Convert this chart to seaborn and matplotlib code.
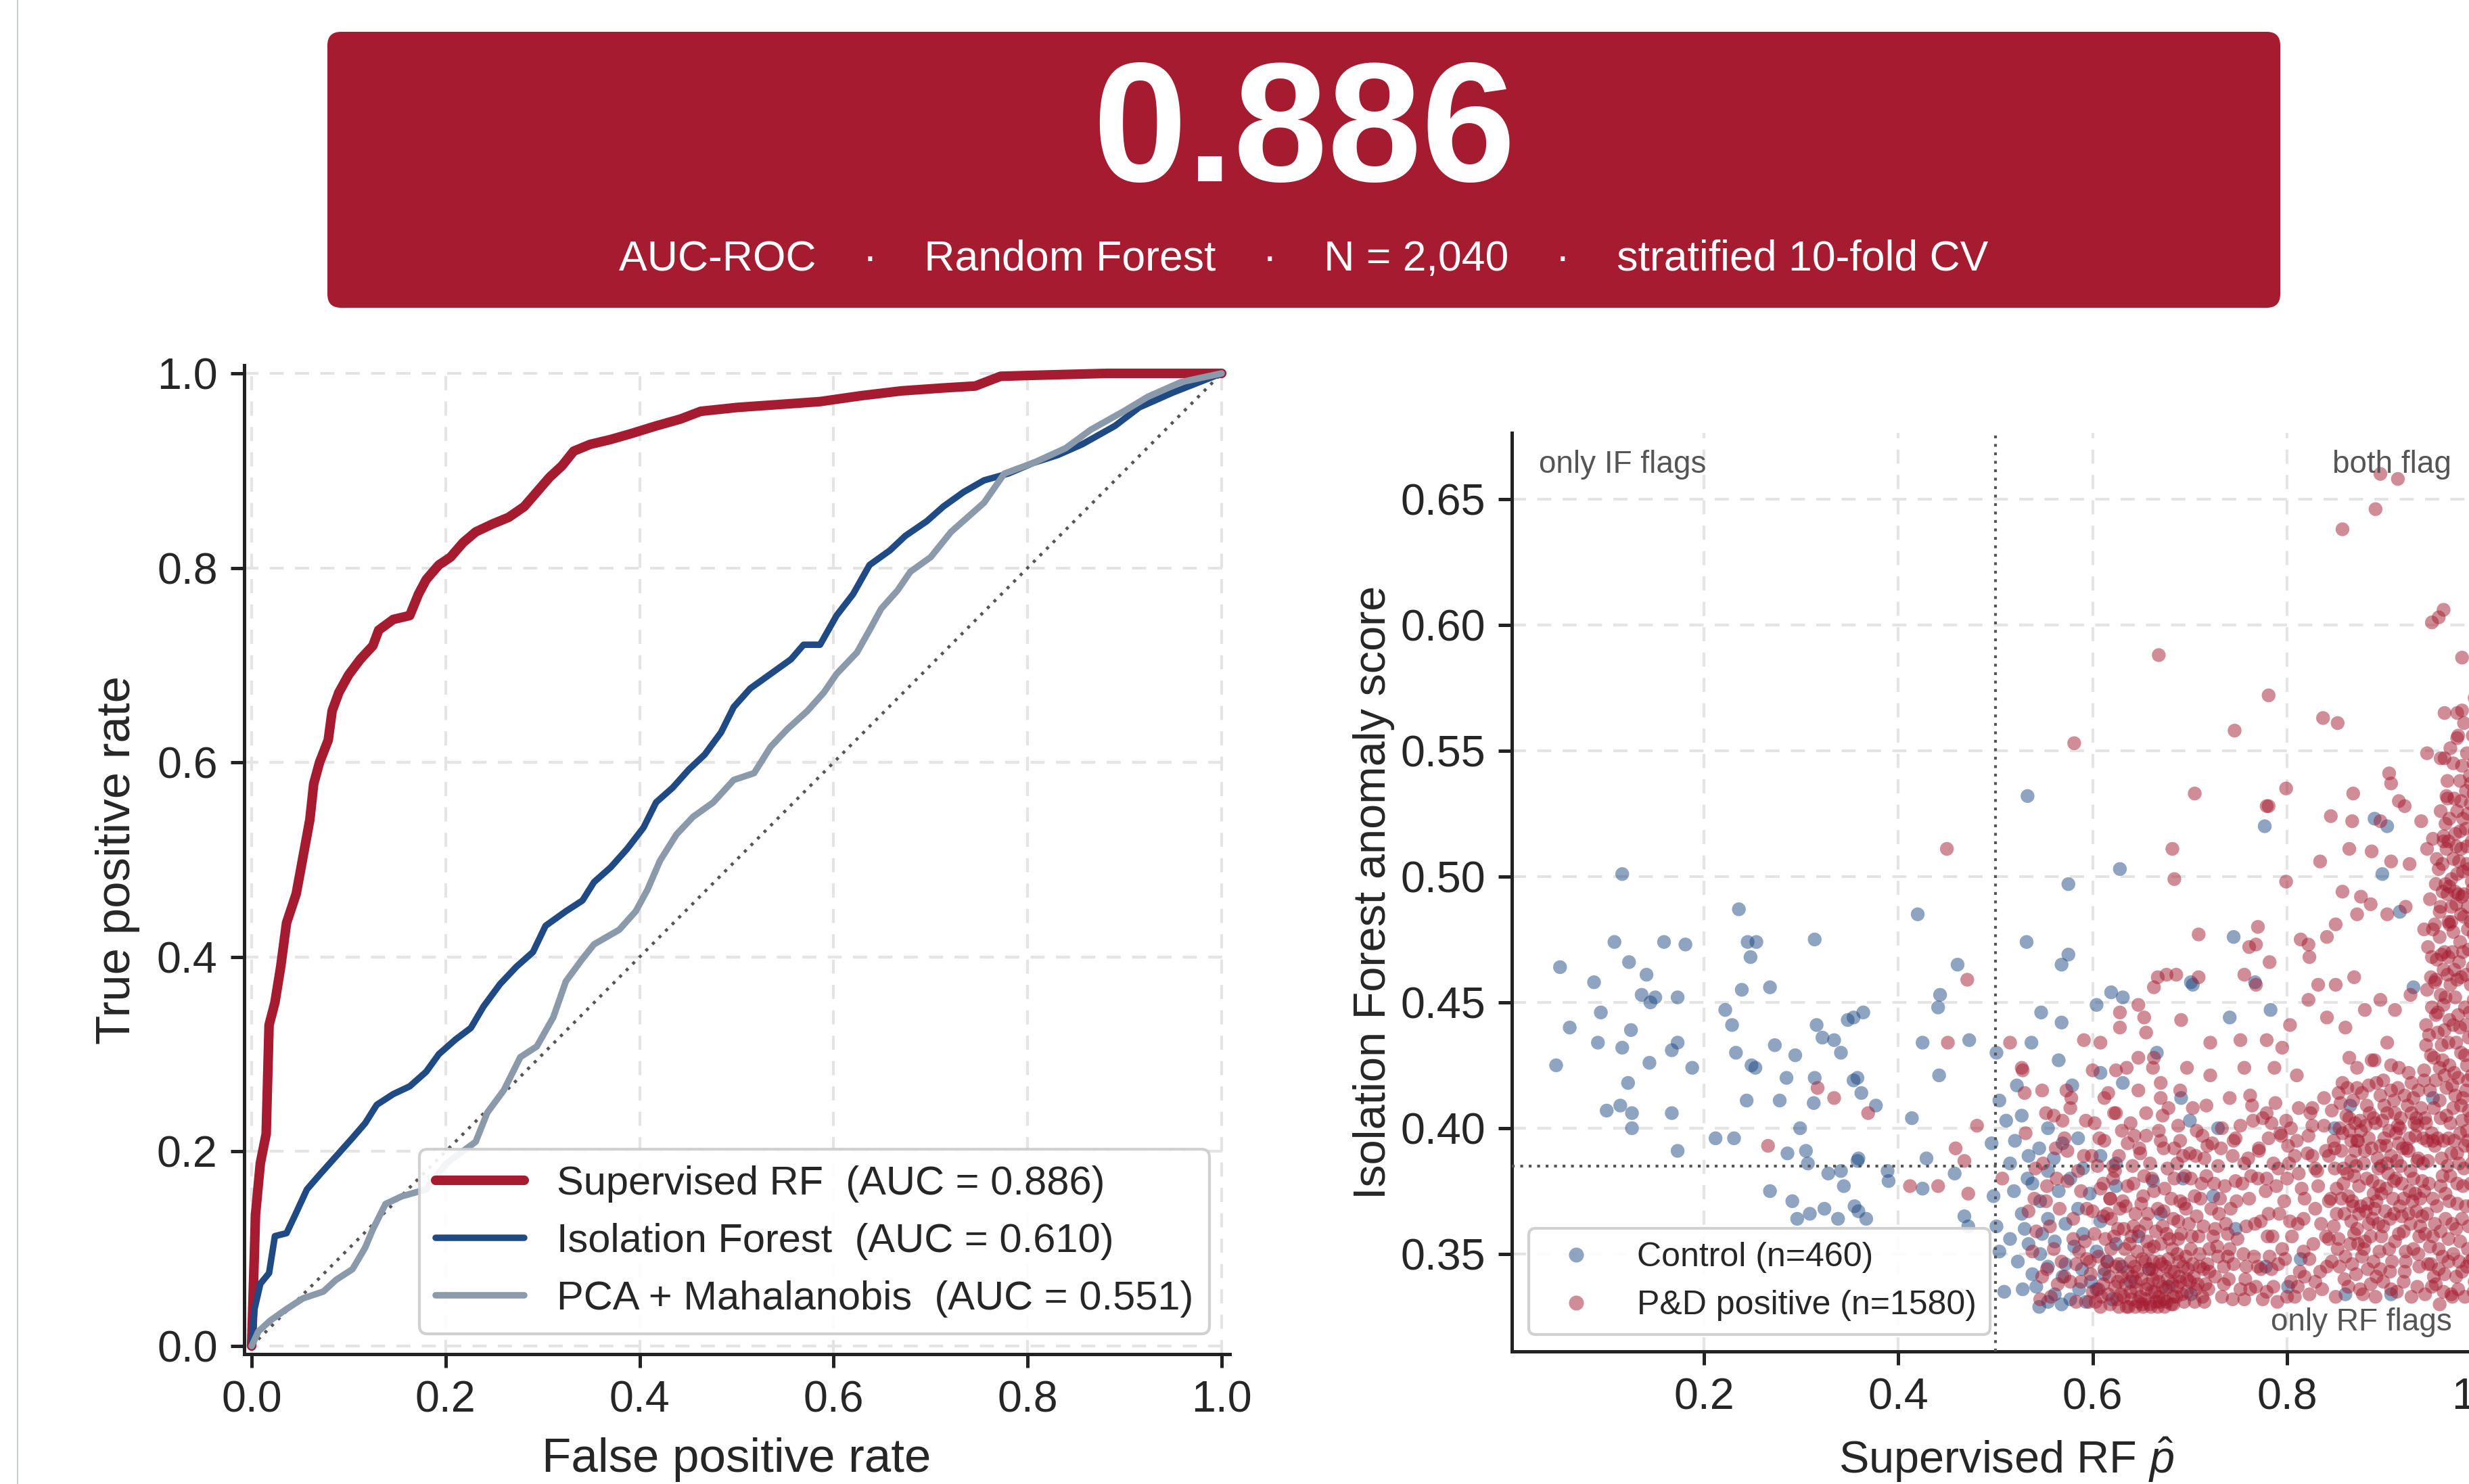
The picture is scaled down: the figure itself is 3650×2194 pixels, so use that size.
import matplotlib
matplotlib.use("Agg")
import matplotlib.pyplot as plt
import seaborn as sns
import pandas as pd
from matplotlib.patches import FancyBboxPatch
from matplotlib.lines import Line2D
from matplotlib.ticker import FormatStrFormatter

# ---------------- data ----------------
rf_fpr = [0.0, 0.003, 0.004, 0.009, 0.015, 0.018, 0.024, 0.030, 0.036, 0.046, 0.053, 0.060, 0.064, 0.070,
          0.079, 0.083, 0.090, 0.100, 0.112, 0.125, 0.131, 0.146, 0.163, 0.172, 0.180, 0.193, 0.205, 0.218,
          0.231, 0.248, 0.265, 0.281, 0.294, 0.307, 0.320, 0.332, 0.349, 0.370, 0.391, 0.417, 0.442, 0.463,
          0.501, 0.544, 0.586, 0.628, 0.670, 0.713, 0.746, 0.772, 0.806, 0.882, 1.0]
rf_tpr = [0.0, 0.100, 0.135, 0.188, 0.218, 0.330, 0.353, 0.390, 0.435, 0.465, 0.503, 0.541, 0.578, 0.600,
          0.623, 0.653, 0.672, 0.690, 0.706, 0.720, 0.736, 0.747, 0.751, 0.773, 0.788, 0.803, 0.811, 0.826,
          0.837, 0.845, 0.852, 0.863, 0.878, 0.893, 0.905, 0.920, 0.927, 0.932, 0.938, 0.946, 0.953, 0.961,
          0.965, 0.968, 0.971, 0.977, 0.982, 0.985, 0.987, 0.997, 0.998, 1.0, 1.0]

if_fpr = [0.0, 0.003, 0.009, 0.018, 0.024, 0.036, 0.045, 0.057, 0.070, 0.087, 0.104, 0.117, 0.129, 0.146,
          0.163, 0.180, 0.193, 0.210, 0.226, 0.239, 0.256, 0.273, 0.290, 0.303, 0.324, 0.341, 0.353, 0.370,
          0.387, 0.404, 0.417, 0.434, 0.451, 0.467, 0.484, 0.497, 0.514, 0.535, 0.556, 0.569, 0.586, 0.603,
          0.620, 0.637, 0.658, 0.674, 0.696, 0.713, 0.734, 0.755, 0.780, 0.806, 0.831, 0.856, 0.890, 0.915,
          0.949, 1.0]
if_tpr = [0.0, 0.038, 0.064, 0.075, 0.113, 0.116, 0.135, 0.161, 0.176, 0.195, 0.214, 0.229, 0.248, 0.259,
          0.267, 0.282, 0.300, 0.315, 0.327, 0.349, 0.372, 0.390, 0.405, 0.432, 0.447, 0.458, 0.477, 0.492,
          0.511, 0.533, 0.559, 0.574, 0.593, 0.608, 0.631, 0.657, 0.676, 0.691, 0.706, 0.721, 0.721, 0.751,
          0.773, 0.803, 0.818, 0.833, 0.848, 0.863, 0.878, 0.890, 0.897, 0.908, 0.916, 0.927, 0.946, 0.965,
          0.980, 1.0]

pca_fpr = [0.0, 0.007, 0.019, 0.036, 0.053, 0.074, 0.087, 0.104, 0.117, 0.125, 0.138, 0.155, 0.180, 0.201,
           0.231, 0.243, 0.260, 0.277, 0.294, 0.311, 0.324, 0.341, 0.353, 0.379, 0.396, 0.408, 0.421, 0.438,
           0.455, 0.476, 0.497, 0.518, 0.535, 0.552, 0.573, 0.590, 0.603, 0.624, 0.637, 0.649, 0.666, 0.679,
           0.700, 0.721, 0.738, 0.755, 0.776, 0.806, 0.839, 0.865, 0.899, 0.924, 0.958, 1.0]
pca_tpr = [0.0, 0.015, 0.026, 0.038, 0.049, 0.056, 0.068, 0.079, 0.101, 0.120, 0.146, 0.154, 0.161, 0.188,
           0.210, 0.240, 0.263, 0.297, 0.308, 0.338, 0.375, 0.398, 0.413, 0.428, 0.447, 0.469, 0.499, 0.526,
           0.544, 0.559, 0.582, 0.589, 0.616, 0.634, 0.653, 0.672, 0.691, 0.713, 0.736, 0.758, 0.777, 0.796,
           0.811, 0.837, 0.852, 0.867, 0.897, 0.908, 0.923, 0.942, 0.961, 0.976, 0.991, 1.0]

roc_labels = ["Supervised RF  (AUC = 0.886)", "Isolation Forest  (AUC = 0.610)",
              "PCA + Mahalanobis  (AUC = 0.551)"]

# scatter: (RF probability, IF anomaly score)
ctrl_pts = [
    (.052, .464), (.048, .425), (.062, .440), (.087, .458), (.094, .446), (.091, .434), (.116, .501),
    (.108, .474), (.123, .466), (.141, .461), (.136, .453), (.145, .450), (.150, .452), (.173, .452),
    (.159, .474), (.181, .473), (.125, .439), (.116, .432), (.144, .426), (.122, .418), (.114, .409),
    (.100, .407), (.126, .406), (.126, .400), (.167, .406), (.173, .391), (.173, .434), (.167, .431),
    (.188, .424), (.222, .447), (.229, .441), (.236, .487), (.239, .455), (.245, .474), (.254, .474),
    (.248, .468), (.268, .456), (.233, .430), (.249, .425), (.253, .424), (.273, .433), (.294, .429),
    (.285, .420), (.244, .411), (.278, .411), (.212, .396), (.231, .396), (.299, .400), (.314, .475),
    (.316, .441), (.322, .436), (.334, .435), (.341, .430), (.348, .443), (.354, .444), (.364, .446),
    (.314, .420), (.313, .410), (.354, .419), (.358, .420), (.362, .414), (.377, .409), (.286, .390),
    (.305, .391), (.307, .386), (.328, .382), (.341, .383), (.344, .377), (.358, .387), (.359, .388),
    (.268, .375), (.291, .371), (.296, .364), (.324, .368), (.355, .369), (.359, .367), (.367, .364),
    (.338, .364), (.309, .366), (.389, .383), (.390, .379), (.414, .404), (.420, .485), (.429, .388),
    (.425, .434), (.425, .376), (.442, .421), (.441, .448), (.443, .453), (.461, .465), (.473, .435),
    (.458, .382), (.472, .361), (.468, .365), (.501, .430), (.504, .411), (.496, .394), (.498, .373),
    (.501, .361), (.504, .351), (.509, .335),
    (.533, .532), (.575, .497), (.628, .503), (.532, .474), (.575, .469), (.568, .465), (.547, .446),
    (.568, .442), (.604, .449), (.619, .454), (.631, .452), (.537, .434), (.522, .417), (.565, .427),
    (.579, .417), (.608, .422), (.631, .418), (.666, .430), (.691, .412), (.700, .403), (.729, .400),
    (.741, .444), (.745, .476), (.767, .458), (.777, .520), (.783, .447), (.890, .523), (.903, .520),
    (.898, .501), (.916, .486), (.930, .456), (.701, .458), (.703, .457),
    (.511, .403), (.527, .405), (.554, .400), (.569, .394), (.585, .396), (.608, .389), (.624, .386),
    (.515, .386), (.534, .389), (.554, .383), (.577, .380), (.597, .374), (.624, .377), (.519, .375),
    (.538, .378), (.546, .371), (.565, .375), (.527, .366), (.554, .364), (.585, .368), (.608, .363),
    (.515, .356), (.534, .354), (.546, .350), (.561, .355), (.581, .353), (.604, .351), (.624, .354),
    (.523, .347), (.538, .342), (.554, .345), (.569, .341), (.589, .344), (.612, .342), (.542, .337),
    (.561, .334), (.577, .332), (.593, .331), (.554, .331), (.604, .336), (.639, .339), (.658, .344),
    (.678, .337), (.701, .334), (.647, .357), (.670, .366), (.662, .379), (.693, .380), (.724, .373),
    (.747, .360), (.778, .345), (.801, .337), (.860, .334), (.907, .334), (.849, .400), (.865, .409),
    (.950, .412), (.814, .348), (.530, .360), (.548, .358), (.572, .362), (.590, .358), (.520, .395),
    (.545, .392), (.560, .388), (.590, .384), (.533, .380), (.572, .346), (.598, .339), (.528, .336),
    (.615, .347), (.630, .345), (.545, .329), (.568, .330), (.586, .336), (.620, .332),
]

pos_sparse = [
    (.317, .416), (.334, .412), (.369, .406), (.266, .393), (.450, .511), (.471, .459), (.451, .434),
    (.481, .401), (.459, .392), (.468, .387), (.412, .377), (.441, .377), (.472, .374), (.507, .380),
    (.515, .434), (.527, .424),
    (.896, .660), (.914, .658), (.891, .646), (.857, .638), (.949, .601), (.956, .603), (.961, .606),
    (.980, .587), (.668, .588), (.781, .572), (.581, .553), (.746, .558), (.837, .563), (.852, .561),
    (.962, .565), (.980, .566), (.944, .549), (.958, .547), (.975, .555), (.705, .533), (.799, .535),
    (.779, .528), (.781, .528), (.868, .533), (.907, .537), (.905, .541), (.845, .524), (.867, .522),
    (.896, .522), (.938, .522), (.915, .530), (.921, .528), (.965, .531), (.682, .511), (.684, .499),
    (.799, .498), (.834, .506), (.857, .494), (.864, .511), (.887, .510), (.907, .506), (.926, .505),
    (.944, .511), (.961, .514), (.876, .492), (.872, .485), (.886, .489), (.903, .485), (.922, .488),
    (.941, .479), (.965, .493), (.969, .482), (.850, .481), (.841, .476), (.822, .473), (.814, .475),
    (.823, .468), (.709, .477), (.770, .480), (.768, .473), (.761, .472), (.782, .466), (.756, .461),
    (.768, .457), (.686, .461), (.676, .461), (.667, .460), (.663, .456), (.647, .449), (.653, .444),
    (.655, .438), (.628, .446), (.691, .443), (.709, .460), (.628, .440), (.608, .434), (.591, .435),
    (.600, .423), (.624, .423), (.616, .414), (.647, .415), (.655, .406), (.670, .412), (.690, .415),
    (.697, .424), (.721, .421), (.717, .409), (.741, .412), (.756, .424), (.752, .435), (.721, .434),
    (.779, .435), (.795, .432), (.787, .424), (.810, .421), (.803, .441), (.822, .451), (.832, .457),
    (.850, .457), (.869, .460), (.841, .444), (.860, .440), (.880, .447), (.896, .451), (.911, .447),
    (.927, .453), (.864, .428), (.887, .427), (.903, .434), (.915, .424), (.930, .412), (.857, .418),
    (.872, .416), (.826, .408), (.838, .401), (.864, .404), (.891, .402), (.911, .406), (.934, .401),
    (.528, .423), (.530, .414), (.548, .415), (.552, .406), (.569, .403), (.573, .415), (.577, .408),
    (.612, .412), (.624, .406), (.643, .397), (.635, .424), (.647, .428), (.663, .428), (.662, .424),
    (.670, .418), (.678, .408), (.670, .395), (.690, .395), (.693, .389), (.713, .397), (.732, .392),
    (.747, .396), (.771, .392), (.794, .397), (.810, .395), (.779, .406), (.764, .409), (.756, .386),
    (.779, .380), (.802, .386), (.826, .389), (.849, .392), (.872, .395), (.896, .393), (.919, .392),
    (.934, .387), (.950, .395),
]

# dense low-score cluster of positives around p 0.6-0.72
pos_cluster_a = [
    (.603, .331), (.611, .338), (.618, .330), (.624, .345), (.629, .334), (.633, .352), (.637, .329),
    (.641, .341), (.645, .336), (.648, .359), (.651, .330), (.654, .347), (.657, .338), (.660, .329),
    (.663, .353), (.666, .342), (.669, .331), (.672, .361), (.675, .336), (.678, .348), (.681, .330),
    (.684, .343), (.688, .356), (.692, .334), (.696, .349), (.700, .339), (.705, .331), (.709, .357),
    (.714, .344), (.719, .336), (.606, .349), (.613, .356), (.619, .364), (.626, .339), (.631, .371),
    (.639, .347), (.644, .366), (.650, .340), (.655, .362), (.661, .335), (.667, .368), (.671, .346),
    (.677, .340), (.683, .364), (.689, .341), (.694, .370), (.701, .352), (.707, .365), (.713, .333),
    (.720, .352), (.598, .342), (.609, .333), (.615, .347), (.622, .357), (.628, .368), (.634, .338),
    (.640, .332), (.646, .351), (.652, .373), (.658, .344), (.664, .335), (.670, .354), (.676, .331),
    (.682, .352), (.687, .337), (.693, .345), (.699, .362), (.704, .341), (.710, .350), (.716, .338),
    (.617, .341), (.625, .332), (.632, .360), (.638, .354), (.643, .345), (.649, .333), (.656, .355),
    (.662, .347), (.668, .339), (.673, .332), (.679, .356), (.686, .333), (.691, .358), (.697, .335),
    (.703, .346), (.726, .341), (.733, .333), (.739, .358), (.745, .346), (.752, .336), (.592, .355),
    (.600, .367), (.608, .376), (.621, .380), (.636, .377), (.653, .381), (.674, .376), (.690, .371),
    (.711, .372), (.730, .366), (.635, .329), (.644, .329), (.652, .329), (.659, .330), (.667, .329),
    (.674, .329), (.627, .329), (.683, .330),
    (.606, .336), (.612, .344), (.619, .352), (.623, .337), (.627, .346), (.632, .333), (.636, .343),
    (.640, .357), (.644, .339), (.647, .331), (.651, .348), (.655, .336), (.658, .352), (.662, .340),
    (.665, .331), (.669, .347), (.672, .337), (.676, .358), (.680, .343), (.683, .333), (.687, .350),
    (.690, .339), (.694, .331), (.698, .344), (.702, .357), (.706, .336), (.710, .345), (.715, .331),
    (.720, .343), (.724, .357), (.611, .365), (.618, .372), (.626, .360), (.634, .369), (.642, .361),
    (.650, .370), (.657, .366), (.665, .359), (.673, .367), (.681, .372), (.688, .363), (.696, .368),
    (.705, .373), (.714, .361), (.722, .368), (.600, .335), (.608, .329), (.616, .334), (.630, .341),
    (.639, .335), (.646, .343), (.654, .332), (.661, .344), (.668, .333), (.675, .345), (.682, .338),
    (.689, .347), (.697, .340), (.708, .338), (.718, .346), (.594, .348), (.602, .358), (.621, .385),
    (.642, .378), (.663, .375), (.684, .380), (.701, .380), (.729, .349), (.735, .338), (.741, .352),
]

# medium-density band of positives, p 0.53-0.85
pos_band = [
    (.531, .398), (.540, .372), (.549, .386), (.556, .361), (.562, .392), (.568, .347), (.574, .379),
    (.580, .364), (.586, .351), (.591, .389), (.548, .341), (.557, .333), (.566, .368), (.577, .339),
    (.588, .375), (.596, .331), (.605, .385), (.612, .395), (.618, .372), (.627, .389), (.542, .359),
    (.553, .377), (.571, .396), (.583, .346), (.594, .368), (.602, .402), (.615, .366), (.630, .399),
    (.641, .385), (.648, .392), (.659, .386), (.668, .399), (.677, .384), (.684, .392), (.695, .381),
    (.706, .389), (.717, .381), (.723, .394), (.736, .377), (.744, .389), (.728, .353), (.735, .345),
    (.742, .368), (.749, .356), (.757, .340), (.761, .372), (.766, .349), (.773, .363), (.779, .335),
    (.785, .357), (.791, .346), (.797, .371), (.804, .339), (.811, .362), (.817, .351), (.823, .334),
    (.829, .368), (.834, .343), (.840, .357), (.756, .332), (.763, .381), (.771, .391), (.778, .375),
    (.786, .386), (.793, .398), (.800, .380), (.808, .389), (.815, .376), (.822, .397), (.831, .383),
    (.752, .401), (.762, .413), (.775, .404), (.788, .410), (.799, .403), (.812, .408), (.826, .401),
    (.838, .412), (.770, .345), (.782, .349), (.715, .388), (.725, .378), (.733, .400), (.747, .379),
    (.758, .361), (.768, .337), (.781, .366), (.795, .352), (.803, .363), (.818, .341), (.827, .354),
    (.836, .336), (.808, .333), (.790, .331), (.744, .332), (.818, .372), (.846, .347), (.843, .371),
    (.789, .377), (.737, .362), (.560, .405), (.578, .412), (.593, .403), (.607, .396), (.622, .406),
    (.639, .402), (.655, .397), (.672, .405), (.688, .401), (.703, .408),
    (.740, .340), (.748, .371), (.755, .350), (.762, .336), (.767, .362), (.773, .344), (.780, .357),
    (.786, .337), (.792, .366), (.798, .348), (.805, .357), (.811, .337), (.817, .364), (.823, .348),
    (.829, .339), (.835, .362), (.841, .345), (.760, .388), (.770, .380), (.781, .396), (.791, .384),
    (.801, .393), (.812, .382), (.821, .390), (.832, .377), (.840, .391), (.765, .403), (.784, .402),
    (.804, .400), (.824, .406), (.745, .395), (.729, .385), (.712, .378), (.700, .390), (.687, .386),
    (.673, .392), (.661, .380), (.649, .390), (.636, .394), (.623, .383), (.611, .378), (.599, .389),
    (.585, .383), (.574, .391), (.563, .380), (.552, .371), (.541, .384), (.580, .356), (.571, .341),
    (.560, .352), (.588, .339), (.553, .344), (.538, .351), (.534, .367), (.546, .332), (.564, .338),
    (.583, .331), (.597, .347), (.829, .384), (.813, .343), (.800, .333), (.784, .344), (.775, .332),
    (.754, .378), (.731, .372), (.718, .393), (.707, .399), (.739, .349), (.726, .360), (.758, .345),
]

# dense cluster of positives around p 0.84-0.94
pos_cluster_b = [
    (.843, .389), (.848, .361), (.851, .376), (.854, .345), (.857, .398), (.859, .366), (.862, .382),
    (.865, .354), (.867, .371), (.870, .391), (.872, .360), (.874, .377), (.877, .349), (.879, .386),
    (.881, .367), (.884, .396), (.886, .357), (.888, .379), (.890, .368), (.893, .388), (.895, .351),
    (.897, .374), (.899, .361), (.902, .393), (.904, .382), (.906, .364), (.909, .372), (.911, .355),
    (.913, .387), (.916, .369), (.918, .378), (.920, .359), (.923, .392), (.925, .366), (.927, .383),
    (.930, .352), (.932, .374), (.935, .388), (.937, .361), (.939, .379), (.846, .407), (.853, .414),
    (.861, .405), (.868, .411), (.875, .403), (.882, .409), (.889, .404), (.896, .413), (.903, .406),
    (.910, .411), (.917, .404), (.924, .409), (.931, .402), (.938, .408), (.884, .417), (.899, .419),
    (.914, .416), (.928, .418), (.871, .342), (.886, .338), (.850, .333), (.863, .337), (.878, .334),
    (.892, .341), (.907, .336), (.921, .343), (.934, .337), (.858, .384), (.873, .395), (.889, .374),
    (.901, .367), (.915, .394), (.929, .371), (.940, .396), (.866, .363), (.880, .355), (.894, .362),
    (.908, .347), (.922, .351), (.936, .357), (.856, .372), (.869, .381), (.883, .370), (.897, .385),
    (.912, .380), (.926, .375), (.939, .365), (.852, .352), (.876, .369), (.905, .399),
    (.845, .372), (.849, .384), (.853, .356), (.856, .391), (.860, .349), (.863, .373), (.866, .395),
    (.869, .358), (.871, .385), (.874, .366), (.876, .399), (.879, .352), (.882, .380), (.884, .362),
    (.887, .392), (.889, .347), (.892, .371), (.894, .384), (.897, .357), (.900, .396), (.902, .376),
    (.905, .352), (.907, .389), (.910, .366), (.912, .398), (.915, .358), (.917, .385), (.920, .372),
    (.922, .347), (.925, .391), (.927, .362), (.930, .380), (.932, .397), (.935, .350), (.937, .372),
    (.940, .386), (.942, .358), (.944, .395), (.855, .410), (.862, .416), (.870, .402), (.877, .414),
    (.885, .406), (.892, .418), (.900, .409), (.907, .415), (.914, .401), (.921, .413), (.928, .406),
    (.935, .415), (.942, .404), (.859, .340), (.867, .346), (.875, .336), (.883, .344), (.891, .333),
    (.899, .339), (.906, .343), (.913, .335), (.920, .339), (.928, .333), (.936, .345), (.843, .356),
    (.851, .366), (.858, .378), (.866, .387), (.873, .354), (.880, .391), (.888, .364), (.895, .377),
    (.903, .386), (.910, .379), (.918, .365), (.926, .396), (.933, .367), (.941, .375), (.848, .395),
    (.864, .399), (.881, .401), (.898, .403), (.916, .400), (.933, .404), (.872, .424), (.890, .427),
    (.907, .425), (.925, .422), (.941, .419), (.854, .400), (.868, .369), (.896, .344),
]

# very dense column of positives with RF probability close to 1
pos_column = [
    (.942, .334), (.948, .346), (.953, .338), (.958, .359), (.962, .342), (.967, .371), (.971, .350),
    (.976, .336), (.980, .364), (.985, .345), (.989, .378), (.994, .355), (.945, .387), (.950, .372),
    (.955, .396), (.960, .381), (.964, .405), (.969, .390), (.973, .413), (.978, .398), (.982, .384),
    (.987, .407), (.991, .392), (.996, .416), (.943, .402), (.952, .362), (.957, .411), (.966, .356),
    (.975, .378), (.984, .369), (.993, .339), (.947, .353), (.961, .395), (.970, .333), (.979, .409),
    (.988, .347), (.997, .383), (.944, .366), (.956, .344), (.965, .385), (.974, .360), (.983, .393),
    (.992, .370), (.951, .408), (.960, .349), (.968, .402), (.977, .347), (.986, .419), (.995, .398),
    (.949, .337), (.941, .423), (.946, .437), (.951, .428), (.955, .446), (.959, .433), (.963, .452),
    (.967, .425), (.971, .441), (.975, .459), (.979, .430), (.983, .448), (.987, .436), (.991, .464),
    (.995, .444), (.944, .455), (.949, .468), (.953, .459), (.957, .476), (.961, .463), (.966, .482),
    (.970, .470), (.974, .489), (.978, .474), (.982, .493), (.986, .479), (.990, .498), (.994, .486),
    (.998, .472), (.947, .491), (.952, .481), (.956, .503), (.960, .494), (.964, .511), (.969, .499),
    (.973, .517), (.977, .506), (.981, .523), (.985, .512), (.989, .529), (.993, .518), (.997, .535),
    (.950, .515), (.958, .526), (.965, .538), (.972, .531), (.980, .544), (.988, .540), (.996, .551),
    (.962, .547), (.976, .556), (.943, .441), (.948, .429), (.954, .467), (.962, .439), (.968, .457),
    (.976, .445), (.984, .461), (.992, .451), (.958, .488), (.967, .496), (.979, .485), (.987, .503),
    (.995, .492), (.963, .521), (.975, .526), (.984, .534), (.992, .545), (.945, .472), (.953, .497),
    (.971, .507), (.981, .470), (.989, .482), (.999, .509), (.966, .468), (.985, .425), (.957, .424),
    (.974, .434), (.993, .430), (.949, .448), (.978, .518),
    (.951, .341), (.956, .352), (.961, .335), (.966, .347), (.970, .362), (.974, .341), (.978, .355),
    (.983, .333), (.987, .361), (.991, .348), (.995, .366), (.999, .341), (.946, .378), (.954, .369),
    (.959, .388), (.963, .374), (.968, .381), (.972, .395), (.977, .386), (.981, .377), (.985, .399),
    (.990, .386), (.994, .375), (.998, .394), (.949, .398), (.958, .404), (.964, .416), (.971, .408),
    (.976, .420), (.981, .412), (.986, .395), (.990, .421), (.995, .409), (.999, .426), (.953, .419),
    (.960, .427), (.966, .434), (.972, .422), (.978, .440), (.983, .429), (.988, .446), (.993, .437),
    (.997, .455), (.955, .438), (.961, .449), (.967, .443), (.973, .452), (.979, .460), (.984, .441),
    (.989, .457), (.994, .466), (.998, .447), (.952, .458), (.959, .469), (.965, .461), (.971, .478),
    (.977, .466), (.982, .484), (.987, .471), (.992, .477), (.996, .490), (.950, .479), (.957, .486),
    (.963, .497), (.969, .488), (.975, .501), (.980, .492), (.985, .505), (.990, .514), (.995, .502),
    (.999, .520), (.954, .507), (.961, .516), (.967, .523), (.974, .512), (.979, .530), (.984, .519),
    (.989, .537), (.994, .527), (.998, .543), (.964, .532), (.971, .545), (.978, .538), (.985, .549),
    (.991, .556), (.997, .561), (.968, .551), (.982, .561), (.993, .571), (.975, .565), (.945, .346),
    (.950, .357), (.957, .330), (.963, .364), (.969, .334), (.975, .370), (.980, .343), (.986, .352),
    (.992, .335), (.997, .357), (.947, .415), (.952, .393), (.958, .377), (.962, .421), (.966, .396),
    (.970, .417), (.975, .390), (.980, .403), (.984, .415), (.989, .404), (.993, .389), (.998, .412),
    (.943, .433), (.948, .460), (.953, .445), (.958, .453), (.962, .470), (.967, .481), (.972, .463),
    (.976, .493), (.981, .502), (.986, .488), (.991, .495), (.996, .479), (.960, .505), (.966, .514),
    (.973, .494), (.979, .511), (.986, .525), (.992, .533),
]

ctrl_label = "Control (n=460)"
pos_label = "P&D positive (n=1580)"
if_threshold = 0.385
rf_threshold = 0.5

# ---------------- style ----------------
RED = "#A51C30"
BLUE = "#1f4a84"
GRAY = "#8a9aab"
TXT = "#262626"

sns.set_theme(style="ticks")
plt.rcParams["font.family"] = ["Liberation Sans", "DejaVu Sans"]
plt.rcParams["mathtext.fontset"] = "custom"
plt.rcParams["mathtext.rm"] = "Liberation Sans"
plt.rcParams["mathtext.it"] = "Liberation Sans:italic"
plt.rcParams["mathtext.bf"] = "Liberation Sans:bold"
plt.rcParams["axes.edgecolor"] = "#222222"
plt.rcParams["axes.linewidth"] = 1.2
plt.rcParams["text.color"] = TXT
plt.rcParams["axes.labelcolor"] = TXT

W, H = 3650, 2194
fig = plt.figure(figsize=(W / 300, H / 300), dpi=300)
fig.patch.set_facecolor("white")

# thin page rule at the left edge
fig.add_artist(Line2D([26 / W, 26 / W], [0, 1], transform=fig.transFigure, color="#c3cad5", lw=0.45))

# banner
bx0, by0, bx1, by1 = 484 / W, 1 - 455 / H, 3371 / W, 1 - 47 / H
banner = FancyBboxPatch((bx0, by0), bx1 - bx0, by1 - by0,
                        boxstyle="round,pad=0,rounding_size=0.0055",
                        mutation_aspect=W / H, transform=fig.transFigure,
                        facecolor=RED, edgecolor="none")
fig.add_artist(banner)
bcx = (bx0 + bx1) / 2
fig.text(bcx, 1 - 268 / H, "0.886", ha="center", va="baseline", fontsize=60,
         fontweight="bold", color="white")
fig.text(bcx, 1 - 400 / H,
         "AUC-ROC    \u00b7    Random Forest    \u00b7    N = 2,040    \u00b7    stratified 10-fold CV",
         ha="center", va="baseline", fontsize=15, color="white")

# ---------------- left: ROC ----------------
ax1 = fig.add_axes([360.5 / W, 1 - 2001.5 / H, 1457 / W, 1461 / H])
ax1.plot([0, 1], [0, 1], color="#555555", lw=1.1, ls=(0, (1, 2)), zorder=1.5)
sns.lineplot(x=rf_fpr, y=rf_tpr, sort=False, estimator=None, color=RED, lw=3.4, ax=ax1,
             label=roc_labels[0], zorder=3)
sns.lineplot(x=if_fpr, y=if_tpr, sort=False, estimator=None, color=BLUE, lw=2.3, ax=ax1,
             label=roc_labels[1], zorder=3)
sns.lineplot(x=pca_fpr, y=pca_tpr, sort=False, estimator=None, color=GRAY, lw=2.3, ax=ax1,
             label=roc_labels[2], zorder=3)
ax1.set_xlim(-0.008, 1.008)
ax1.set_ylim(-0.008, 1.008)
ticks01 = [0.0, 0.2, 0.4, 0.6, 0.8, 1.0]
ax1.set_xticks(ticks01)
ax1.set_yticks(ticks01)
ax1.xaxis.set_major_formatter(FormatStrFormatter("%.1f"))
ax1.yaxis.set_major_formatter(FormatStrFormatter("%.1f"))
ax1.set_xlabel("False positive rate", fontsize=17, labelpad=6)
ax1.set_ylabel("True positive rate", fontsize=17, labelpad=6)
leg1 = ax1.legend(loc="lower right", fontsize=14.3, frameon=True, fancybox=True, framealpha=0.9,
                  edgecolor="#cccccc", handlelength=2.2, labelspacing=0.5, borderpad=0.4,
                  borderaxespad=0.5)
leg1.get_frame().set_linewidth(1.0)

# ---------------- right: scatter ----------------
ax2 = fig.add_axes([2235.1 / W, 1 - 1998 / H, 1462.1 / W, 1358 / H])

rows = [(p, s, ctrl_label) for p, s in ctrl_pts]
for group in (pos_sparse, pos_band, pos_cluster_a, pos_cluster_b, pos_column):
    rows += [(p, s, pos_label) for p, s in group]
df = pd.DataFrame(rows, columns=["p", "score", "group"])

sns.scatterplot(data=df, x="p", y="score", hue="group", hue_order=[ctrl_label, pos_label],
                palette=[BLUE, RED], s=24, alpha=0.5, linewidth=0, ax=ax2, legend=False, zorder=2)
ax2.axvline(rf_threshold, color="#555555", lw=1.0, ls=(0, (1, 2)), zorder=3)
ax2.axhline(if_threshold, color="#555555", lw=1.0, ls=(0, (1, 2)), zorder=3)
ax2.set_xlim(0.0025, 1.02)
ax2.set_ylim(0.3113, 0.6763)
ax2.set_xticks([0.2, 0.4, 0.6, 0.8, 1.0])
ax2.set_yticks([0.35, 0.40, 0.45, 0.50, 0.55, 0.60, 0.65])
ax2.xaxis.set_major_formatter(FormatStrFormatter("%.1f"))
ax2.yaxis.set_major_formatter(FormatStrFormatter("%.2f"))
ax2.set_xlabel(r"Supervised RF $\hat{p}$", fontsize=16, labelpad=6)
ax2.set_ylabel("Isolation Forest anomaly score", fontsize=16, labelpad=2)

handles = [Line2D([], [], marker="o", ls="none", markersize=5.3, markerfacecolor=BLUE,
                  markeredgewidth=0, alpha=0.5, label=ctrl_label),
           Line2D([], [], marker="o", ls="none", markersize=5.3, markerfacecolor=RED,
                  markeredgewidth=0, alpha=0.5, label=pos_label)]
leg2 = ax2.legend(handles=handles, loc="lower left", fontsize=12, frameon=True, fancybox=True,
                  framealpha=0.9, edgecolor="#cccccc", labelspacing=0.5, borderpad=0.4,
                  borderaxespad=0.5)
leg2.get_frame().set_linewidth(1.0)

note_kw = dict(xycoords="axes fraction", textcoords="offset points", fontsize=11, color="#555555")
ax2.annotate("only IF flags", xy=(0, 1), xytext=(9.6, -6), ha="left", va="top", **note_kw)
ax2.annotate("both flag", xy=(1, 1), xytext=(-17.5, -6), ha="right", va="top", **note_kw)
ax2.annotate("only RF flags", xy=(1, 0), xytext=(-17.5, 5), ha="right", va="bottom", **note_kw)

# ---------------- shared axis styling ----------------
for ax in (ax1, ax2):
    sns.despine(ax=ax)
    ax.grid(True, linestyle=(0, (5, 4)), color="#e4e4e4", lw=1.0)
    ax.set_axisbelow(True)
    ax.tick_params(axis="both", labelsize=15.5, length=4.8, width=1.2, color="#222222",
                   labelcolor=TXT)
    ax.tick_params(axis="y", pad=4.5)
    ax.tick_params(axis="x", pad=4.5)

fig.savefig("out.png", dpi=300)
